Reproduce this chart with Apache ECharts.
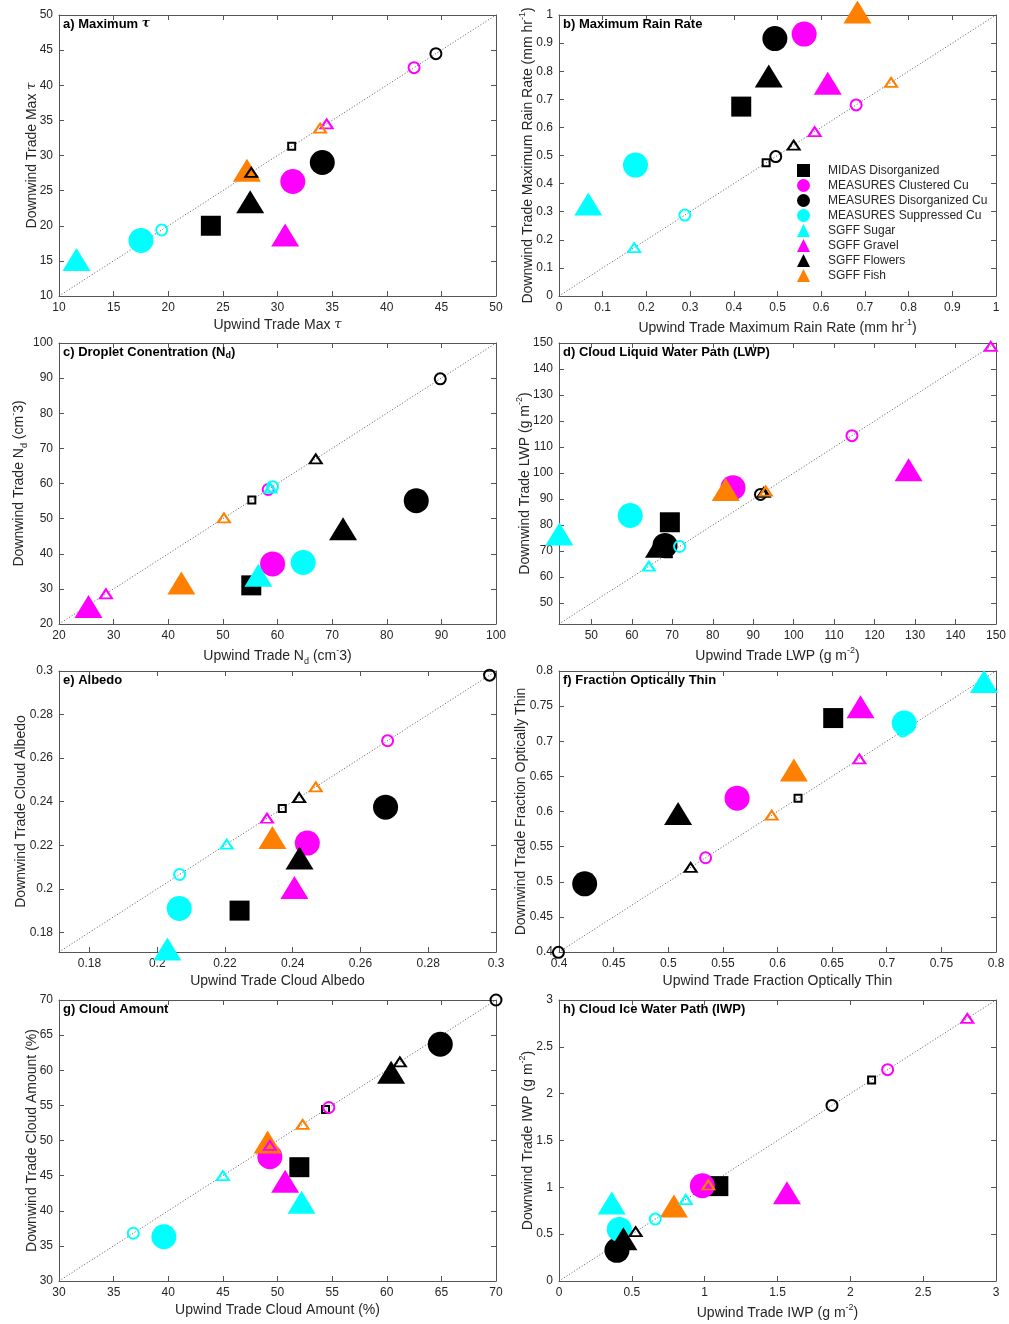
<!DOCTYPE html>
<html>
<head>
<meta charset="utf-8">
<script src="https://cdn.jsdelivr.net/npm/echarts@6/dist/echarts.min.js"></script>
<style>
html, body { margin: 0; padding: 0; background: #fff; }
#chart { width: 1009px; height: 1324px; }
</style>
</head>
<body>
<div id="chart"></div>
<script>
var FONT = '"Liberation Sans", Helvetica, Arial, sans-serif';

// categories (legend order)
var names = ['MIDAS Disorganized', 'MEASURES Clustered Cu', 'MEASURES Disorganized Cu', 'MEASURES Suppressed Cu',
    'SGFF Sugar', 'SGFF Gravel', 'SGFF Flowers', 'SGFF Fish'];
var colors = ['#000000', '#ff00ff', '#000000', '#00ffff', '#00ffff', '#ff00ff', '#000000', '#ff8000'];
var shapes = ['rect', 'circle', 'circle', 'circle', 'triangle', 'triangle', 'triangle', 'triangle'];

// a) maximum tau
var upTau = [23.9, 31.4, 34.1, 17.5, 11.6, 30.7, 27.5, 27.2];
var downTau = [20.0, 26.3, 29.0, 17.9, 15.2, 18.7, 23.4, 27.9];
var openTau = [31.3, 42.5, 44.5, 19.4, null, 34.5, 27.6, 33.9];
// b) maximum rain rate
var upRain = [0.417, 0.561, 0.494, 0.175, 0.067, 0.615, 0.48, 0.683];
var downRain = [0.674, 0.932, 0.916, 0.466, 0.327, 0.757, 0.783, 1.011];
var openRain = [0.474, 0.680, 0.496, 0.288, 0.172, 0.585, 0.537, 0.760];
// c) droplet concentration
var upNd = [55.2, 59.1, 85.4, 64.7, 56.5, 25.4, 72.0, 42.4];
var downNd = [31.0, 37.1, 55.1, 37.5, 33.9, 25.0, 47.1, 31.7];
var openNd = [55.3, 58.3, 89.8, 59.1, 58.7, 28.6, 67.0, 50.2];
// d) liquid water path
var upLwp = [69.4, 85.0, 68.2, 59.6, 42.1, 128.4, 66.7, 83.2];
var downLwp = [81.1, 94.4, 72.2, 83.7, 76.6, 101.3, 71.9, 93.7];
var openLwp = [69.0, 114.4, 91.8, 71.8, 64.2, 148.7, 92.6, 93.1];
// e) albedo
var upAlb = [0.2243, 0.2443, 0.2674, 0.2065, 0.203, 0.2405, 0.242, 0.234];
var downAlb = [0.190, 0.221, 0.2375, 0.191, 0.1724, 0.2006, 0.2141, 0.2236];
var openAlb = [0.2369, 0.268, 0.2981, 0.2066, 0.2205, 0.2324, 0.2419, 0.2468];
// f) fraction optically thin
var upThin = [0.651, 0.563, 0.4235, 0.716, 0.789, 0.676, 0.509, 0.615];
var downThin = [0.733, 0.619, 0.497, 0.726, 0.785, 0.749, 0.597, 0.659];
var openThin = [0.6188, 0.5342, 0.3995, 0.7146, null, 0.6749, 0.5205, 0.5947];
// g) cloud amount
var upAmt = [52.0, 49.3, 64.9, 39.6, 52.2, 50.7, 60.4, 49.1];
var downAmt = [46.2, 47.7, 63.7, 36.3, 41.2, 44.2, 59.7, 49.8];
var openAmt = [54.4, 54.7, 70.0, 36.8, 45.0, 49.3, 61.2, 52.3];
// h) ice water path
var upIwp = [1.094, 0.984, 0.398, 0.414, 0.362, 1.565, 0.442, 0.789];
var downIwp = [1.013, 1.017, 0.327, 0.551, 0.832, 0.942, 0.451, 0.80];
var openIwp = [2.146, 2.256, 1.874, 0.661, 0.87, 2.803, 0.526, 1.025];

// tick labels
var ticksTau = [10, 15, 20, 25, 30, 35, 40, 45, 50];
var ticksRain = [0, 0.1, 0.2, 0.3, 0.4, 0.5, 0.6, 0.7, 0.8, 0.9, 1];
var ticksNd = [20, 30, 40, 50, 60, 70, 80, 90, 100];
var ticksLwp = [50, 60, 70, 80, 90, 100, 110, 120, 130, 140, 150];
var ticksAlb = [0.18, 0.2, 0.22, 0.24, 0.26, 0.28, 0.3];
var ticksThin = [0.4, 0.45, 0.5, 0.55, 0.6, 0.65, 0.7, 0.75, 0.8];
var ticksAmt = [30, 35, 40, 45, 50, 55, 60, 65, 70];
var ticksIwp = [0, 0.5, 1, 1.5, 2, 2.5, 3];

var panels = [
    { up: upTau, down: downTau, open: openTau, min: 10, max: 50, ticks: ticksTau,
      title: 'a) Maximum {t|τ}', xName: 'Upwind Trade Max {t|τ}', yName: 'Downwind Trade Max {t|τ}' },
    { up: upRain, down: downRain, open: openRain, min: 0, max: 1, ticks: ticksRain,
      title: 'b) Maximum Rain Rate', xName: 'Upwind Trade Maximum Rain Rate (mm hr{sup|-1})',
      yName: 'Downwind Trade Maximum Rain Rate (mm hr{sup|-1})' },
    { up: upNd, down: downNd, open: openNd, min: 20, max: 100, ticks: ticksNd,
      title: 'c) Droplet Conentration (N{sub|d})', xName: 'Upwind Trade N{sub|d} (cm{sup|-}3)',
      yName: 'Downwind Trade N{sub|d} (cm{sup|-}3)' },
    { up: upLwp, down: downLwp, open: openLwp, min: 42, max: 150, ticks: ticksLwp,
      title: 'd) Cloud Liquid Water Path (LWP)', xName: 'Upwind Trade LWP (g m{sup|-2})',
      yName: 'Downwind Trade LWP (g m{sup|-2})' },
    { up: upAlb, down: downAlb, open: openAlb, min: 0.171, max: 0.3, ticks: ticksAlb,
      title: 'e) Albedo', xName: 'Upwind Trade Cloud Albedo', yName: 'Downwind Trade Cloud Albedo' },
    { up: upThin, down: downThin, open: openThin, min: 0.4, max: 0.8, ticks: ticksThin,
      title: 'f) Fraction Optically Thin', xName: 'Upwind Trade Fraction Optically Thin',
      yName: 'Downwind Trade Fraction Optically Thin' },
    { up: upAmt, down: downAmt, open: openAmt, min: 30, max: 70, ticks: ticksAmt,
      title: 'g) Cloud Amount', xName: 'Upwind Trade Cloud Amount (%)', yName: 'Downwind Trade Cloud Amount (%)' },
    { up: upIwp, down: downIwp, open: openIwp, min: 0, max: 3, ticks: ticksIwp,
      title: 'h) Cloud Ice Water Path (IWP)', xName: 'Upwind Trade IWP (g m{sup|-2})',
      yName: 'Downwind Trade IWP (g m{sup|-2})' }
];

// layout
var gridLeft = [59, 559];
var gridTop = [15, 343, 671, 1000];
var xGap = [18, 22, 22, 22, 19, 19, 19, 22];
var yGap = [17, 20.5, 30, 23.5, 28, 27.5, 17, 20.5];
var filledSize = { rect: 20, circle: 25, triangle: [28, 23] };
var openSize = { rect: 7, circle: 11, triangle: [12, 9] };

var nameRich = {
    t: { fontStyle: 'italic', fontFamily: 'DejaVu Serif', fontSize: 13, color: '#262626', lineHeight: 20 },
    sup: { fontSize: 9, fontFamily: FONT, color: '#262626', verticalAlign: 'top', lineHeight: 9 },
    sub: { fontSize: 9, fontFamily: FONT, color: '#262626', verticalAlign: 'bottom', lineHeight: 9 }
};
var titleRich = {
    t: { fontStyle: 'italic', fontFamily: 'DejaVu Serif', fontSize: 12, color: '#000', lineHeight: 16 },
    sub: { fontSize: 9, fontFamily: FONT, fontWeight: 'bold', color: '#000', verticalAlign: 'bottom', lineHeight: 9 }
};

var grids = [], xAxes = [], yAxes = [], titles = [], series = [];

panels.forEach(function (p, i) {
    var gl = gridLeft[i % 2], gt = gridTop[Math.floor(i / 2)];
    grids.push({ left: gl, top: gt, width: 437, height: 281 });
    titles.push({
        text: p.title, left: gl + 4, top: gt + 1, padding: 0,
        textStyle: { fontFamily: FONT, fontSize: 13, fontWeight: 'bold', color: '#000', lineHeight: 16, rich: titleRich }
    });

    function axis(pos, withLabel, name, gap, noMove) {
        var a = {
            type: 'value', gridIndex: i, position: pos, min: p.min, max: p.max,
            splitLine: { show: false },
            axisLine: { show: true, onZero: false, lineStyle: { color: '#555', width: 1 } },
            axisTick: { show: true, inside: true, length: 5, customValues: p.ticks, lineStyle: { color: '#555' } },
            axisLabel: { show: withLabel, customValues: p.ticks, color: '#262626', fontSize: 12, fontFamily: FONT, margin: 6 }
        };
        if (name) {
            a.name = name;
            a.nameLocation = 'middle';
            a.nameGap = gap;
            if (noMove) a.nameMoveOverlap = false;
            a.nameTextStyle = { fontFamily: FONT, fontSize: 14, color: '#262626', lineHeight: 20, rich: nameRich };
        }
        return a;
    }
    xAxes.push(axis('bottom', true, p.xName, xGap[i], false));
    xAxes.push(axis('top', false));
    yAxes.push(axis('left', true, p.yName, yGap[i], true));
    yAxes.push(axis('right', false));

    // 1:1 line across the axis range
    series.push({
        type: 'line', xAxisIndex: 2 * i, yAxisIndex: 2 * i, silent: true, symbol: 'none', z: 1,
        data: [[p.min, p.min], [p.max, p.max]],
        lineStyle: { type: [1, 2], color: '#555', width: 1 }
    });
    names.forEach(function (n, k) {
        series.push({
            name: n, type: 'scatter', xAxisIndex: 2 * i, yAxisIndex: 2 * i, clip: false, z: 2,
            symbol: shapes[k], symbolSize: filledSize[shapes[k]],
            itemStyle: { color: colors[k], opacity: 1 },
            data: [[p.up[k], p.down[k]]]
        });
    });
    names.forEach(function (n, k) {
        if (p.open[k] == null) return;
        series.push({
            name: n + ' (1:1)', type: 'scatter', xAxisIndex: 2 * i, yAxisIndex: 2 * i, clip: false, z: 3,
            symbol: shapes[k], symbolSize: openSize[shapes[k]],
            itemStyle: { color: 'rgba(0,0,0,0)', borderColor: colors[k], borderWidth: 2, opacity: 1 },
            data: [[p.open[k], p.open[k]]]
        });
    });
});

var chart = echarts.init(document.getElementById('chart'));
chart.setOption({
    animation: false,
    backgroundColor: '#fff',
    title: titles,
    legend: {
        data: names, orient: 'vertical', left: 797, top: 164, padding: 0,
        itemWidth: 13, itemHeight: 13, itemGap: 2, selectedMode: false,
        textStyle: { fontFamily: FONT, fontSize: 12, color: '#262626', padding: [0, 0, 0, 13] }
    },
    grid: grids,
    xAxis: xAxes,
    yAxis: yAxes,
    series: series
});
</script>
</body>
</html>
